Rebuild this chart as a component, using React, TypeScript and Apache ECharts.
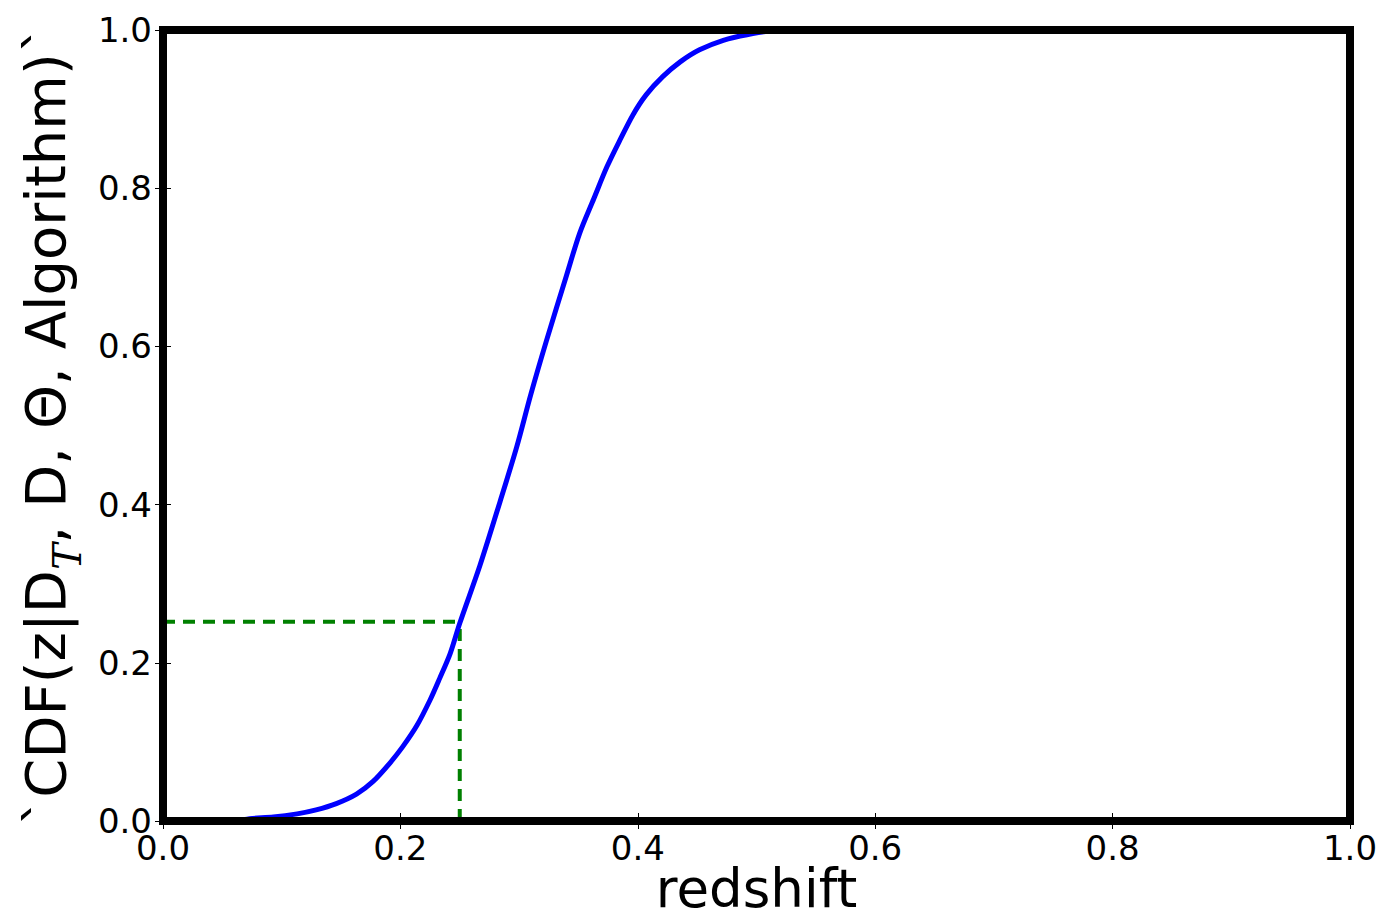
import React, { useEffect, useRef } from "react";
import * as echarts from "echarts";

// Cumulative distribution of redshift (blue curve)
const cdfX = [0.0, 0.06, 0.073, 0.093, 0.113, 0.129, 0.146, 0.163, 0.177, 0.191, 0.202, 0.214, 0.225, 0.233, 0.242, 0.25, 0.267, 0.284, 0.298, 0.31, 0.323, 0.34, 0.351, 0.363, 0.374, 0.385, 0.396, 0.407, 0.421, 0.436, 0.452, 0.472, 0.492, 0.52, 1.0];
const cdfY = [0.0, 0.0, 0.003, 0.005, 0.009, 0.014, 0.022, 0.034, 0.05, 0.073, 0.094, 0.121, 0.153, 0.18, 0.212, 0.25, 0.323, 0.404, 0.473, 0.54, 0.607, 0.69, 0.743, 0.787, 0.827, 0.861, 0.893, 0.918, 0.941, 0.96, 0.975, 0.987, 0.994, 1.0, 1.0];

// Quantile marker (green dashed guides)
const markerZ = 0.25;
const markerCdf = 0.252;

const axisMin = 0;
const axisMax = 1;
const tickStep = 0.2;

const FONT = "DejaVu Sans";

export default function App() {
  const ref = useRef<HTMLDivElement>(null);

  useEffect(() => {
    if (!ref.current) return;
    const chart = echarts.init(ref.current, undefined, { renderer: "svg" });

    const fmt = (v: number) => v.toFixed(1);
    const tick = { show: true, inside: true, length: 8, lineStyle: { color: "#000", width: 1 } };

    const option: any = {
      animation: false,
      backgroundColor: "#fff",
      grid: {
        left: 163,
        right: 34,
        top: 30,
        bottom: 99,
        outerBoundsMode: "none",
        containLabel: false,
        show: true,
        borderColor: "#000",
        borderWidth: 8,
        backgroundColor: "transparent",
        z: 10,
      },
      xAxis: [
        {
          type: "value",
          min: axisMin,
          max: axisMax,
          interval: tickStep,
          position: "bottom",
          axisLine: { show: false },
          axisTick: tick,
          splitLine: { show: false },
          axisLabel: {
            formatter: fmt,
            fontFamily: FONT,
            fontSize: 34,
            color: "#000",
            margin: 10,
            showMinLabel: true,
            showMaxLabel: true,
          },
          name: "redshift",
          nameLocation: "middle",
          nameGap: 41,
          nameMoveOverlap: false,
          nameTextStyle: { fontFamily: FONT, fontSize: 53, lineHeight: 53, color: "#000" },
        },
        {
          type: "value",
          min: axisMin,
          max: axisMax,
          interval: tickStep,
          position: "top",
          axisLine: { show: false },
          axisTick: tick,
          splitLine: { show: false },
          axisLabel: { show: false },
        },
      ],
      yAxis: [
        {
          type: "value",
          min: axisMin,
          max: axisMax,
          interval: tickStep,
          position: "left",
          axisLine: { show: false },
          axisTick: tick,
          splitLine: { show: false },
          axisLabel: {
            formatter: fmt,
            fontFamily: FONT,
            fontSize: 34,
            color: "#000",
            margin: 11,
            showMinLabel: true,
            showMaxLabel: true,
          },
          name: "`CDF(z|D{sub|T}, D, Θ, Algorithm)`",
          nameLocation: "middle",
          nameRotate: 90,
          nameGap: 80,
          nameTextStyle: {
            fontFamily: FONT,
            fontSize: 56,
            color: "#000",
            rich: {
              sub: {
                fontFamily: "DejaVu Serif",
                fontStyle: "italic",
                fontSize: 40,
                color: "#000",
                verticalAlign: "bottom",
                padding: [0, 0, -14, 0],
              },
            },
          },
        },
        {
          type: "value",
          min: axisMin,
          max: axisMax,
          interval: tickStep,
          position: "right",
          axisLine: { show: false },
          axisTick: tick,
          splitLine: { show: false },
          axisLabel: { show: false },
        },
      ],
      series: [
        {
          type: "line",
          name: "marker-h",
          data: [
            [axisMin, markerCdf],
            [markerZ, markerCdf],
          ],
          showSymbol: false,
          lineStyle: { color: "#008000", width: 4, type: [12, 8] },
          z: 3,
        },
        {
          type: "line",
          name: "marker-v",
          data: [
            [markerZ, axisMin],
            [markerZ, markerCdf],
          ],
          showSymbol: false,
          lineStyle: { color: "#008000", width: 4, type: [12, 8] },
          z: 3,
        },
        {
          type: "line",
          name: "cdf",
          data: cdfX.map((x, i) => [x, cdfY[i]]),
          showSymbol: false,
          smooth: 0.3,
          lineStyle: { color: "#0000ff", width: 5 },
          z: 4,
        },
      ],
    };

    chart.setOption(option);
    return () => chart.dispose();
  }, []);

  return (
    <div
      ref={ref}
      style={{ position: "fixed", left: 0, top: 0, width: 1384, height: 920, background: "#fff" }}
    />
  );
}
